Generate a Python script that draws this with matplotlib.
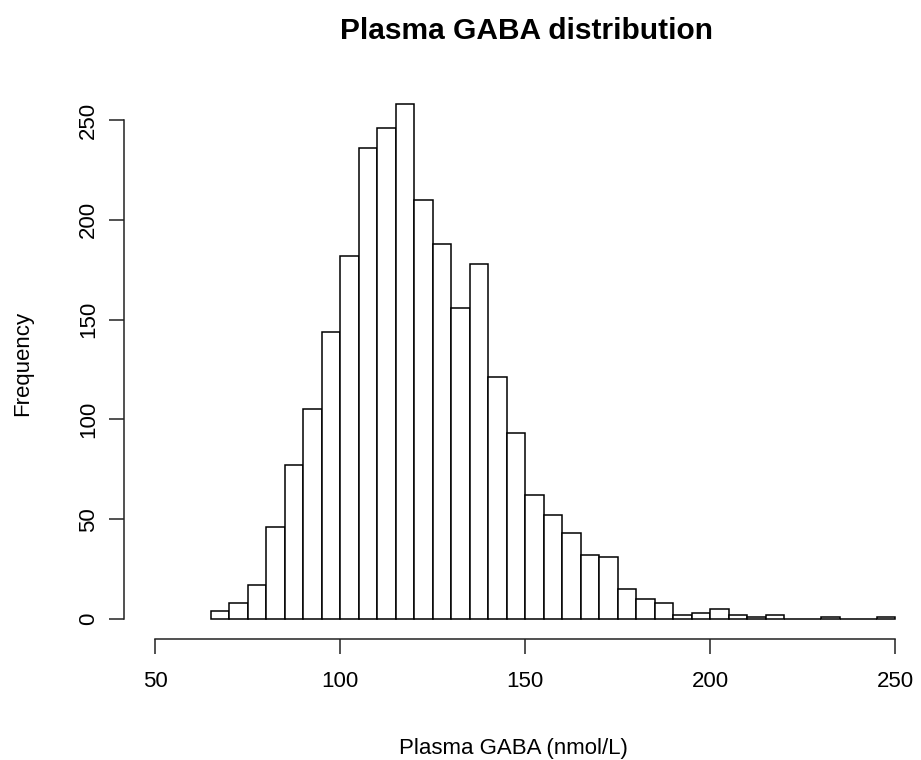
import numpy as np
import matplotlib
matplotlib.use("Agg")
import matplotlib.pyplot as plt

# histogram bins (nmol/L), width 5 from 65 to 250
bin_edges = np.arange(65, 255, 5)
counts = [4, 8, 17, 46, 77, 105, 144, 182, 236, 246, 258, 210, 188, 156, 178,
          121, 93, 62, 52, 43, 32, 31, 15, 10, 8, 2, 3, 5, 2, 1, 2, 0, 0, 1, 0, 0, 1]
x_ticks = [50, 100, 150, 200, 250]
y_ticks = [0, 50, 100, 150, 200, 250]

plt.rcParams['font.family'] = ['Liberation Sans', 'DejaVu Sans']

fig = plt.figure(figsize=(9.21, 7.6), dpi=100)
W, H = 921, 760
# axes placed in pixel terms (left 124, bottom 639, top 100, right 920)
ax = fig.add_axes([124 / W, (H - 639) / H, (920 - 124) / W, (639 - 100) / H])

ax.bar(bin_edges[:-1], counts, width=5, align='edge',
       facecolor='white', edgecolor='black', linewidth=1.1)

# map: 50 -> px 155, 250 -> px 895 ; 0 -> px 619, 250 -> px 120
xs = 740 / 200
ax.set_xlim(50 - (155 - 124) / xs, 250 + (920 - 895) / xs)
ys = 499 / 250
ax.set_ylim(0 - (639 - 619) / ys, 250 + (120 - 100) / ys)

ax.spines['top'].set_visible(False)
ax.spines['right'].set_visible(False)
ax.spines['left'].set_bounds(0, 250)
ax.spines['bottom'].set_bounds(50, 250)
for s in ['left', 'bottom']:
    ax.spines[s].set_linewidth(1.1)
    ax.spines[s].set_color('#222222')

ax.set_xticks(x_ticks)
ax.set_yticks(y_ticks)
ax.tick_params(direction='out', length=11, width=1.1, color='#222222',
               labelsize=16)
ax.tick_params(axis='x', pad=12)
ax.tick_params(axis='y', pad=7)
for lab in ax.get_yticklabels():
    lab.set_rotation(90)
    lab.set_va('center')

ax.set_xlabel('Plasma GABA (nmol/L)', fontsize=16, labelpad=33)
ax.xaxis.label.set_x((513 - 124) / 796)
ax.set_ylabel('Frequency', fontsize=16, labelpad=32)
ax.yaxis.label.set_y((639 - 363) / 539)
fig.text((526 - 0) / W, 0.978, 'Plasma GABA distribution', fontsize=21.5,
         fontweight='bold', ha='center', va='top')

fig.savefig('out.png', dpi=100, facecolor='white')
